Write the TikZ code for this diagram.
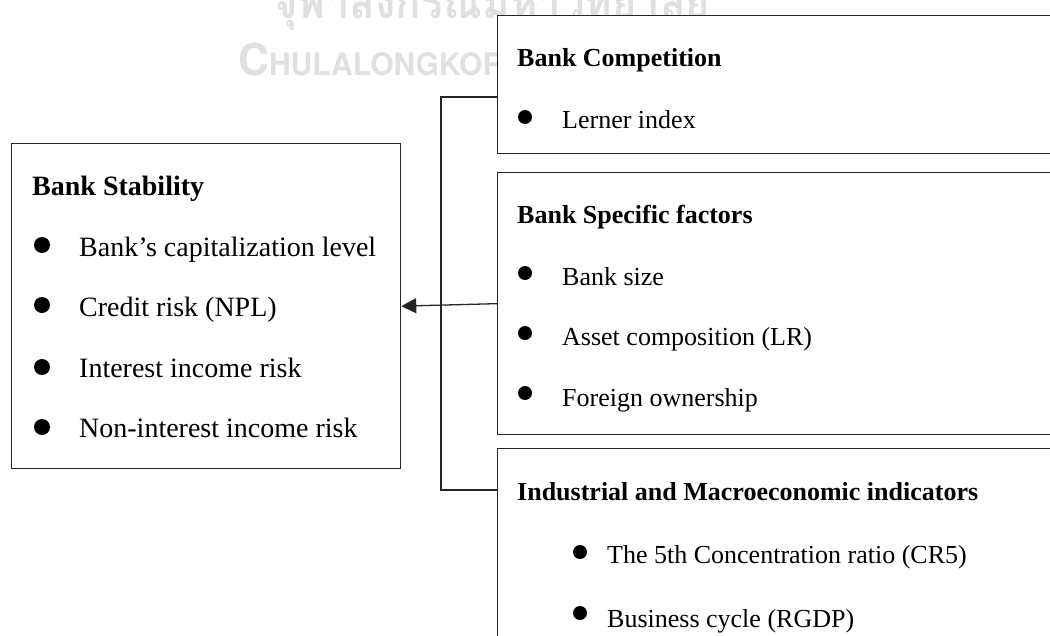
\documentclass[tikz,border=0pt]{standalone}
\usepackage{fontspec}
\setmainfont{Liberation Serif}
\newfontfamily\thaifont[Script=Thai]{Loma}
\newfontfamily\markfont{TeX Gyre Heros}
\usetikzlibrary{arrows.meta}
\begin{document}
\begin{tikzpicture}[x=1pt,y=-1pt,
  box/.style={draw=black!85, line width=1.3pt, fill=white, anchor=north west, inner sep=0pt},
  link/.style={draw=black!85, line width=1.3pt},
  bigtxt/.style={font=\fontsize{28}{34}\selectfont, anchor=base west, inner sep=0pt},
  bighead/.style={font=\fontsize{28}{34}\selectfont\bfseries, anchor=base west, inner sep=0pt},
  smalltxt/.style={font=\fontsize{26}{31}\selectfont, anchor=base west, inner sep=0pt},
  smallhead/.style={font=\fontsize{26}{31}\selectfont\bfseries, anchor=base west, inner sep=0pt},
  bigdot/.style={circle, fill=black, inner sep=0pt, minimum size=16pt},
  smalldot/.style={circle, fill=black, inner sep=0pt, minimum size=14pt},
  wmark/.style={text=black!12, inner sep=0pt, anchor=base west, transform shape}
]
\useasboundingbox (0,0) rectangle (1050,635);
\clip (0,0) rectangle (1050,635);
\fill[white] (0,0) rectangle (1050,635);

% university watermark behind the boxes
\node[wmark, xscale=0.91, font=\thaifont\bfseries\fontsize{46}{52}\selectfont] (wmthai) at (273,18) {จุฬาลงกรณ์มหาวิทยาลัย};
\node[wmark, xscale=0.97, font=\markfont\bfseries] (wmlatin) at (238,75)
  {\fontsize{44}{50}\selectfont C\fontsize{31}{38}\selectfont HULALONGKORN};

% boxes
\node[box, minimum width=389pt, minimum height=325pt] (stab) at (11,143) {};
\node[box, minimum width=563pt, minimum height=138pt] (comp) at (497,15) {};
\node[box, minimum width=563pt, minimum height=262pt] (spec) at (497,172) {};
\node[box, minimum width=563pt, minimum height=210pt] (indus) at (497,448) {};

% Bank Stability
\node[bighead] (stabt) at (32,195) {Bank Stability};
\node[bigdot] (sd1) at (42,245) {};
\node[bigtxt] (s1) at (79,256) {Bank’s capitalization level};
\node[bigdot] (sd2) at (42,305) {};
\node[bigtxt] (s2) at (79,316) {Credit risk (NPL)};
\node[bigdot] (sd3) at (42,367) {};
\node[bigtxt] (s3) at (79,377) {Interest income risk};
\node[bigdot] (sd4) at (42,427) {};
\node[bigtxt] (s4) at (79,437) {Non-interest income risk};

% Bank Competition
\node[smallhead] (compt) at (517,66) {Bank Competition};
\node[smalldot] (cd1) at (525,117) {};
\node[smalltxt] (c1) at (562,128) {Lerner index};

% Bank Specific factors
\node[smallhead] (spect) at (517,223) {Bank Specific factors};
\node[smalldot] (pd1) at (525,273) {};
\node[smalltxt] (p1) at (562,285) {Bank size};
\node[smalldot] (pd2) at (525,333) {};
\node[smalltxt] (p2) at (562,345) {Asset composition (LR)};
\node[smalldot] (pd3) at (525,393) {};
\node[smalltxt] (p3) at (562,406) {Foreign ownership};

% Industrial and Macroeconomic indicators
\node[smallhead] (indt) at (517,500) {Industrial and Macroeconomic indicators};
\node[smalldot] (id1) at (580,552) {};
\node[smalltxt] (i1) at (607,563) {The 5th Concentration ratio (CR5)};
\node[smalldot] (id2) at (580,613) {};
\node[smalltxt] (i2) at (607,627) {Business cycle (RGDP)};

% bracket joining the competition and macro boxes
\coordinate (cin) at (497,97);
\coordinate (iin) at (497,490);
\draw[link] (cin) -- (441,97) -- (441,490) -- (iin);

% arrow into Bank Stability
\draw[link, -{Triangle[length=15pt,width=15pt]}] (spec.west) -- (stab.east);
\end{tikzpicture}
\end{document}
